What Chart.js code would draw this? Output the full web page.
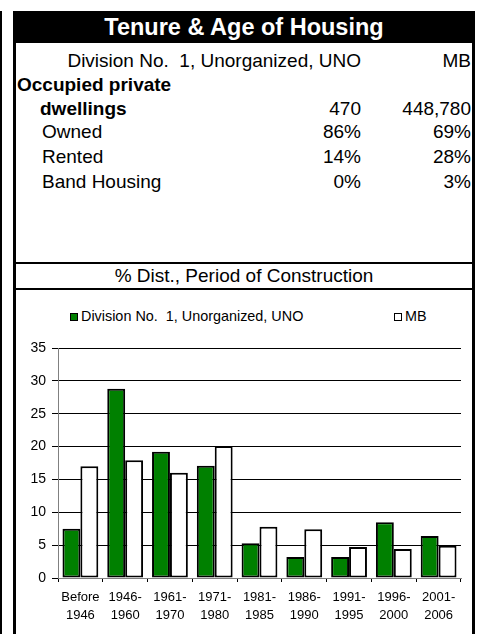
<!DOCTYPE html>
<html>
<head>
<meta charset="utf-8">
<script src="https://cdn.jsdelivr.net/npm/chart.js@4"></script>
<style>
  html, body { margin: 0; padding: 0; background: #fff; }
  body { width: 479px; height: 634px; position: relative; overflow: hidden;
         font-family: "Liberation Sans", Arial, sans-serif; color: #000; }
  .abs { position: absolute; white-space: pre; }
  .bar { position: absolute; background: #000; }
  .row { position: absolute; left: 0; width: 479px; height: 22px; line-height: 22px; font-size: 19px; }
  .row span { position: absolute; white-space: pre; }
  .row b { font-weight: bold; }
  .v1 { right: 118px; }
  .v2 { right: 8px; }
  #chartBox { position: absolute; left: 16px; top: 290px; width: 456px; height: 344px; }
  .leg { position: absolute; top: 307px; font-size: 14.4px; line-height: 18px; white-space: pre; }
  .leg i { display: inline-block; width: 6px; height: 6px; border: 1.5px solid #000; vertical-align: 0px; margin-right: 3px; }
</style>
</head>
<body>
  <!-- cadre -->
  <div class="bar" style="left:0;top:11px;width:2px;height:623px"></div>
  <div class="bar" style="left:13px;top:11px;width:3px;height:623px"></div>
  <div class="bar" style="left:472px;top:11px;width:3px;height:623px"></div>
  <div class="bar" style="left:13px;top:11px;width:462px;height:32px"></div>
  <div class="bar" style="left:13px;top:262px;width:462px;height:2px"></div>
  <div class="bar" style="left:13px;top:288px;width:462px;height:2px"></div>

  <div class="abs" style="left:13px;width:462px;top:13px;text-align:center;color:#fff;font-weight:bold;font-size:23.5px;line-height:28px">Tenure &amp; Age of Housing</div>
  <div id="table"></div>
  <div class="abs" style="left:13px;width:462px;top:265px;text-align:center;font-size:19px;line-height:22px">% Dist., Period of Construction</div>

  <div class="leg" style="left:70px"><i style="background:#008000"></i>Division No.  1, Unorganized, UNO</div>
  <div class="leg" style="left:394px"><i style="background:#fff"></i>MB</div>

  <div id="chartBox"><canvas id="ageChart"></canvas></div>

<script>
// --- données du tableau ---
const regionName = "Division No.  1, Unorganized, UNO";
const provName = "MB";
const rowLabels = ["Owned", "Rented", "Band Housing"];
const rowRegion = ["86%", "14%", "0%"];
const rowProv = ["69%", "28%", "3%"];
const dwellRegion = "470";
const dwellProv = "448,780";

// --- données du graphique ---
const periods = [
  ["Before", "1946"], ["1946-", "1960"], ["1961-", "1970"], ["1971-", "1980"],
  ["1981-", "1985"], ["1986-", "1990"], ["1991-", "1995"], ["1996-", "2000"], ["2001-", "2006"]
];
const regionValues = [7.5, 28.8, 19.2, 17.1, 5.3, 3.2, 3.2, 8.5, 6.4];
const provValues = [17.0, 17.9, 16.0, 20.1, 7.8, 7.4, 4.7, 4.4, 4.9];
const yMax = 35;
const yStep = 5;

// construction du tableau
function addRow(top, label, left, bold, a, b) {
  const r = document.createElement("div");
  r.className = "row";
  r.style.top = top + "px";
  let html = "";
  if (label) html += '<span style="left:' + left + 'px">' + (bold ? "<b>" + label + "</b>" : label) + "</span>";
  if (a) html += '<span class="v1">' + a + "</span>";
  if (b) html += '<span class="v2">' + b + "</span>";
  r.innerHTML = html;
  document.getElementById("table").appendChild(r);
}
addRow(50, "", 0, false, regionName, provName);
addRow(74, "Occupied private", 17, true, "", "");
addRow(98, "dwellings", 40, true, dwellRegion, dwellProv);
rowLabels.forEach((lab, i) => addRow(121 + i * 25, lab, 42, false, rowRegion[i], rowProv[i]));

Chart.defaults.font.family = '"Liberation Sans", Arial, sans-serif';
Chart.defaults.font.size = 13;
Chart.defaults.color = "#000";

new Chart(document.getElementById("ageChart").getContext("2d"), {
  type: "bar",
  data: {
    labels: periods,
    datasets: [
      {
        label: regionName,
        data: regionValues,
        backgroundColor: "#008000",
        borderColor: "#000",
        borderWidth: 2,
        borderSkipped: false,
      },
      {
        label: provName,
        data: provValues,
        backgroundColor: "#fff",
        borderColor: "#000",
        borderWidth: 2,
        borderSkipped: false,
      },
    ],
  },
  options: {
    responsive: true,
    maintainAspectRatio: false,
    animation: false,
    layout: { padding: { top: 58, right: 11, left: 0, bottom: 0 } },
    datasets: { bar: { categoryPercentage: 0.8, barPercentage: 1.0 } },
    plugins: {
      legend: { display: false },
      tooltip: { enabled: false },
    },
    scales: {
      x: {
        afterFit: (s) => { s.height = 56; },
        grid: { drawOnChartArea: false, tickLength: 4, color: "#000" },
        border: { color: "#808080", width: 1 },
        ticks: { maxRotation: 0, padding: 6, font: { size: 13, lineHeight: 1.4 } },
      },
      y: {
        min: 0,
        max: yMax,
        afterFit: (s) => { s.width = 42; },
        grid: { color: "#000", tickLength: 6 },
        border: { color: "#808080", width: 1 },
        ticks: { stepSize: yStep, padding: 6, font: { size: 14 } },
      },
    },
  },
});
</script>
</body>
</html>
